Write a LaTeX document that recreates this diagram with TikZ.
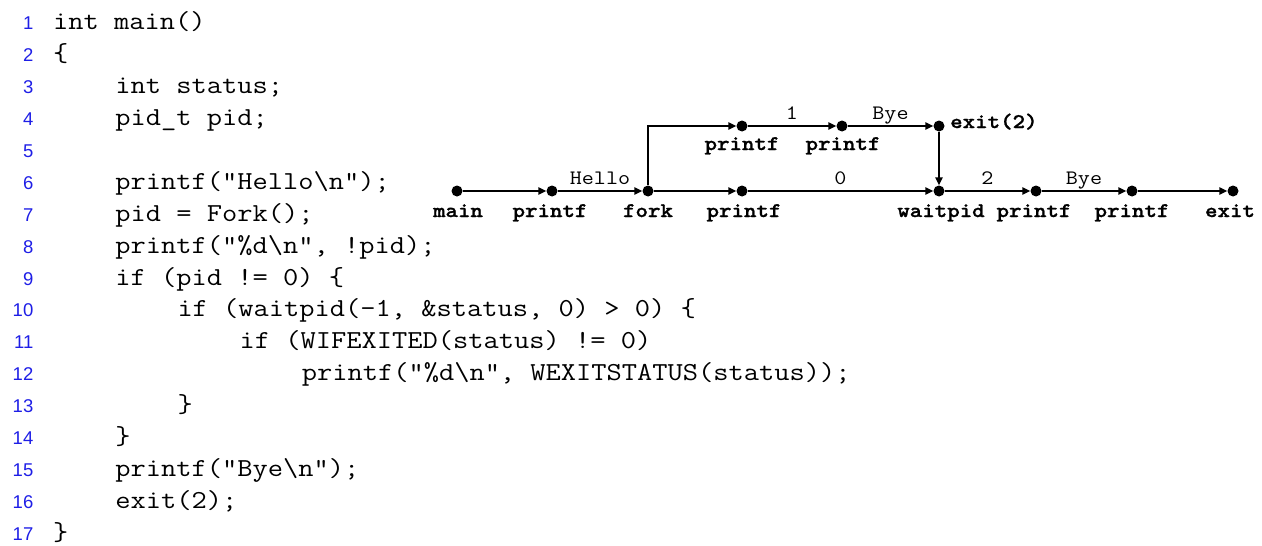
\documentclass[tikz,border=0pt]{standalone}
\usepackage{fontspec}
\setmonofont{Latin Modern Mono}[FakeStretch=1.143]
\newfontfamily\ttbold{Latin Modern Mono Light}[FakeStretch=1.143,BoldFeatures={FakeBold=1.2}]
\newfontfamily\numfont{Liberation Sans}
\usetikzlibrary{arrows.meta}
\definecolor{lnblue}{RGB}{30,30,230}
\begin{document}
\begin{tikzpicture}[x=1pt,y=-1pt,
 code/.style={anchor=base west, inner sep=0pt, font=\ttfamily\fontsize{25.9}{30}\selectfont},
 lnum/.style={anchor=base east, inner sep=0pt, text=lnblue, font=\numfont\fontsize{18.5}{20}\selectfont},
 dot/.style={circle, fill=black, inner sep=0pt, minimum size=11pt},
 nlabel/.style={anchor=base, inner sep=0pt, font=\ttbold\bfseries\fontsize{20.8}{22}\selectfont},
 elabel/.style={anchor=base, inner sep=0pt, yshift=7pt, font=\ttfamily\fontsize{20.5}{22}\selectfont},
 flow/.style={line width=1.4pt, -{Triangle[length=8pt,width=7.5pt]}},
]
\useasboundingbox (0,0) rectangle (1262,546);

% line numbers
\foreach \k in {1,...,17}{
  \node[lnum] (ln\k) at (33.5,{30+(\k-1)*31.88}) {\k};
}
% code
\node[code] (c1)  at (53,30)    {int main()};
\node[code] (c2)  at (53,61.9)  {\{};
\node[code] (c3)  at (115.2,93.8) {int status;};
\node[code] (c4)  at (115.2,125.6) {pid\_t pid;};
\node[code] (c6)  at (115.2,189.4) {printf("Hello\textbackslash n");};
\node[code] (c7)  at (115.2,221.3) {pid = Fork();};
\node[code] (c8)  at (115.2,253.2) {printf("\%d\textbackslash n", !pid);};
\node[code] (c9)  at (115.2,285.0) {if (pid != 0) \{};
\node[code] (c10) at (177.3,316.9) {if (waitpid(-1, \&status, 0) > 0) \{};
\node[code] (c11) at (239.5,348.8) {if (WIFEXITED(status) != 0)};
\node[code] (c12) at (301.6,380.7) {printf("\%d\textbackslash n", WEXITSTATUS(status));};
\node[code] (c13) at (177.3,412.6) {\}};
\node[code] (c14) at (115.2,444.4) {\}};
\node[code] (c15) at (115.2,476.3) {printf("Bye\textbackslash n");};
\node[code] (c16) at (115.2,508.2) {exit(2);};
\node[code] (c17) at (53,540.1) {\}};

% process graph dots
\node[dot] (main)    at (457,191) {};
\node[dot] (p1)      at (552,191) {};
\node[dot] (fork)    at (648,191) {};
\node[dot] (p0)      at (742,191) {};
\node[dot] (waitpid) at (939,191) {};
\node[dot] (p2)      at (1036,191) {};
\node[dot] (p3)      at (1132,191) {};
\node[dot] (exit)    at (1233,191) {};
\node[dot] (tp1)     at (742,126) {};
\node[dot] (tp2)     at (842,126) {};
\node[dot] (exit2)   at (939,126) {};

% node labels
\node[nlabel] (lmain) at (458,217) {main};
\node[nlabel] (lp1)   at (550,217) {printf};
\node[nlabel] (lfork) at (648,217) {fork};
\node[nlabel] (lp0)   at (744,217) {printf};
\node[nlabel] (lwait) at (941,217) {waitpid};
\node[nlabel] (lp2)   at (1034,217) {printf};
\node[nlabel] (lp3)   at (1132,217) {printf};
\node[nlabel] (lexit) at (1230,217) {exit};
\node[nlabel] (ltp1)  at (742,150) {printf};
\node[nlabel] (ltp2)  at (843,150) {printf};
\node[nlabel, anchor=base west] (lexit2) at (950,128) {exit(2)};

% connectors
\draw[flow] (main) -- (p1);
\draw[flow] (p1) -- node[elabel] (eHello) {Hello} (fork);
\draw[flow] (fork) -- (p0);
\draw[flow] (p0) -- node[elabel] (e0) {0} (waitpid);
\draw[flow] (waitpid) -- node[elabel] (e2) {2} (p2);
\draw[flow] (p2) -- node[elabel] (eBye2) {Bye} (p3);
\draw[flow] (p3) -- (exit);
\draw[flow] (fork) |- (tp1);
\draw[flow] (tp1) -- node[elabel] (e1) {1} (tp2);
\draw[flow] (tp2) -- node[elabel] (eBye1) {Bye} (exit2);
\draw[flow] (exit2) -- (waitpid);
\end{tikzpicture}
\end{document}
